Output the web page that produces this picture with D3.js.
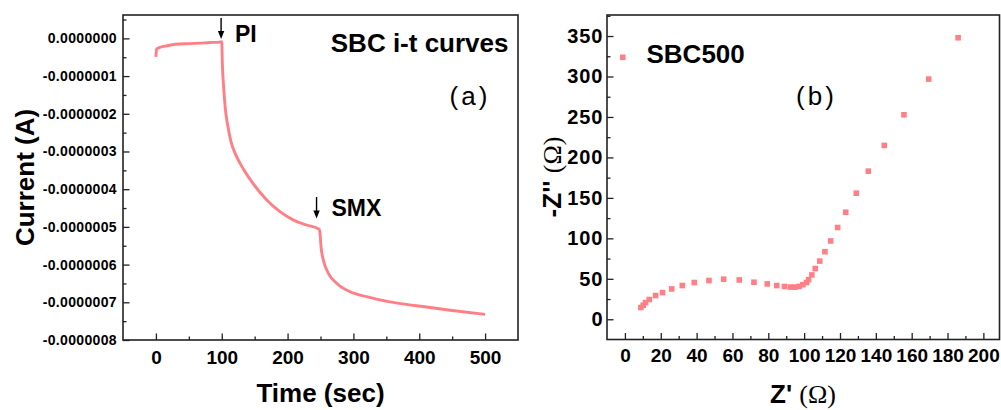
<!DOCTYPE html>
<html>
<head>
<meta charset="utf-8">
<script src="https://cdn.jsdelivr.net/npm/d3@7"></script>
<style>
  body { margin: 0; background: #fff; }
  svg { display: block; font-family: "Liberation Sans", Arial, sans-serif; }
  .tick line { stroke: #222; stroke-width: 1.3; }
  .tick text { fill: #000; font-weight: bold; }
</style>
</head>
<body>
<svg width="1001" height="410"></svg>
<script>
// (a) i-t curve: time in sec, current in A
const itTime = [0, 1, 3, 6, 10, 16, 25, 36, 50, 67, 82, 97, 100, 101, 103, 105.4, 109, 114, 123, 133, 148, 168, 188, 209, 229, 247.7, 249, 250.8, 254.3, 262, 275, 295, 320, 355, 396, 447, 500];
const itCurrent = [-0.49e-7, -0.29e-7, -0.26e-7, -0.24e-7, -0.22e-7, -0.20e-7, -0.17e-7, -0.15e-7, -0.14e-7, -0.125e-7, -0.11e-7, -0.10e-7, -0.09e-7,
  -0.71e-7, -1.33e-7, -1.86e-7, -2.30e-7, -2.74e-7, -3.15e-7, -3.47e-7, -3.86e-7, -4.28e-7, -4.59e-7, -4.82e-7, -4.95e-7, -5.06e-7,
  -5.12e-7, -5.53e-7, -5.88e-7, -6.23e-7, -6.50e-7, -6.72e-7, -6.85e-7, -6.99e-7, -7.09e-7, -7.21e-7, -7.32e-7];
const itXTicks = [0, 100, 200, 300, 400, 500];
const itYTicks = [0, -1e-7, -2e-7, -3e-7, -4e-7, -5e-7, -6e-7, -7e-7, -8e-7];

// (b) Nyquist plot: Z' and -Z'' in ohm
const zReal = [8.9, 10.2, 11.5, 13.6, 17.1, 21.0, 26.1, 32.0, 38.7, 46.9, 55.1, 63.8, 72.0, 79.4, 84.7, 89.0, 92.3, 94.9, 97.2, 99.3,
  101.3, 102.5, 104.3, 106.2, 108.7, 111.6, 114.8, 118.7, 123.2, 129.1, 135.8, 144.7, 155.7, 169.5, 185.9];
const zImag = [14.5, 17.3, 20.6, 24.4, 29.3, 33.0, 37.5, 41.7, 45.4, 47.9, 49.5, 48.6, 45.8, 43.7, 41.7, 40.5, 39.8, 39.7, 40.6, 42.8,
  45.5, 49.0, 54.8, 62.7, 71.9, 83.5, 96.8, 113.4, 132.3, 155.8, 183.0, 214.8, 252.7, 296.8, 347.9];
const zXTicks = [0, 20, 40, 60, 80, 100, 120, 140, 160, 180, 200];
const zYTicks = [0, 50, 100, 150, 200, 250, 300, 350];

const red = "#ff7f86";
const svg = d3.select("svg");

function frame(g, x, y) {
	g.append("rect")
		.attr("x", x.range()[0]).attr("y", y.range()[1])
		.attr("width", x.range()[1] - x.range()[0])
		.attr("height", y.range()[0] - y.range()[1])
		.attr("fill", "none").attr("stroke", "#222").attr("stroke-width", 1.6);
}

function axes(g, x, y, o) {
	const [y0] = y.range();
	const [x0] = x.range();
	// minor ticks
	g.append("g").attr("transform", `translate(0,${y0})`)
		.call(d3.axisBottom(x).tickValues(o.xMinor).tickSize(-3.5).tickFormat(""))
		.call((a) => a.select(".domain").remove());
	g.append("g").attr("transform", `translate(${x0},0)`)
		.call(d3.axisLeft(y).tickValues(o.yMinor).tickSize(-3.5).tickFormat(""))
		.call((a) => a.select(".domain").remove());
	// major ticks
	g.append("g").attr("transform", `translate(0,${y0})`)
		.call(d3.axisBottom(x).tickValues(o.xTicks).tickSize(-6.5).tickPadding(o.xPad).tickFormat(o.xFmt))
		.call((a) => a.select(".domain").remove())
		.call((a) => a.selectAll("text").style("font-size", o.xSize + "px").attr("font-family", null));
	g.append("g").attr("transform", `translate(${x0},0)`)
		.call(d3.axisLeft(y).tickValues(o.yTicks).tickSize(-6.5).tickPadding(o.yPad).tickFormat(o.yFmt))
		.call((a) => a.select(".domain").remove())
		.call((a) => a.selectAll("text").style("font-size", o.ySize + "px")
			.style("letter-spacing", o.ySpace + "px").attr("font-family", null));
}

function arrow(g, x, y1, y2) {
	g.append("line").attr("x1", x).attr("x2", x).attr("y1", y1).attr("y2", y2 - 6)
		.attr("stroke", "#000").attr("stroke-width", 1.4);
	g.append("path").attr("d", `M${x - 3.2},${y2 - 8}L${x + 3.2},${y2 - 8}L${x},${y2}Z`).attr("fill", "#000");
}

// ---------- panel (a)
const xA = d3.scaleLinear().domain([-50, 550]).range([123, 518]);
const yA = d3.scaleLinear().domain([-8e-7, 0.62e-7]).range([340, 15]);
const gA = svg.append("g");

axes(gA, xA, yA, {
	xTicks: itXTicks, xMinor: [50, 150, 250, 350, 450],
	yTicks: itYTicks, yMinor: d3.range(-7.5, 1, 1).map((d) => d * 1e-7),
	xFmt: (d) => d, yFmt: (d) => (Math.abs(d) < 1e-12 ? 0 : d).toFixed(7),
	xPad: 10.5, yPad: 6, xSize: 19, ySize: 14, ySpace: 0.35
});

const itData = itTime.map((t, i) => ({ t, c: itCurrent[i] }));
gA.append("path").datum(itData)
	.attr("fill", "none").attr("stroke", red).attr("stroke-width", 2.9)
	.attr("stroke-linejoin", "round")
	.attr("d", d3.line().x((d) => xA(d.t)).y((d) => yA(d.c)).curve(d3.curveMonotoneX));
frame(gA, xA, yA);

arrow(gA, xA(99), 18, 39);
gA.append("text").attr("x", 235).attr("y", 41.7).text("PI")
	.style("font-size", "23px").style("font-weight", "bold");
arrow(gA, xA(244), 197, 218.5);
gA.append("text").attr("x", 331.5).attr("y", 216).text("SMX")
	.style("font-size", "23px").style("font-weight", "bold");
gA.append("text").attr("x", 508.5).attr("y", 51.7).attr("text-anchor", "end").text("SBC i-t curves")
	.style("font-size", "26px").style("font-weight", "bold");
gA.append("text").attr("x", 470).attr("y", 104.5).attr("text-anchor", "middle").text("(a)")
	.style("font-size", "26px").style("letter-spacing", "3px");

gA.append("text").attr("x", 320.5).attr("y", 401.5).attr("text-anchor", "middle").text("Time (sec)")
	.style("font-size", "26px").style("font-weight", "bold");
gA.append("text").attr("transform", "translate(33.5,177.5) rotate(-90)").attr("text-anchor", "middle")
	.text("Current (A)").style("font-size", "26px").style("font-weight", "bold");

// ---------- panel (b)
const xB = d3.scaleLinear().domain([-10, 209]).range([607, 999.5]);
const yB = d3.scaleLinear().domain([-25, 376]).range([339.5, 15]);
const gB = svg.append("g");

axes(gB, xB, yB, {
	xTicks: zXTicks, xMinor: d3.range(10, 210, 20),
	yTicks: zYTicks, yMinor: d3.range(-25, 376, 50).filter((d) => d > -25),
	xFmt: (d) => d, yFmt: (d) => d,
	xPad: 8.7, yPad: 3.5, xSize: 19, ySize: 20, ySpace: 1
});

const zData = zReal.map((r, i) => ({ r, im: zImag[i] }));
gB.selectAll("rect.pt").data(zData).join("rect").attr("class", "pt")
	.attr("x", (d) => xB(d.r) - 2.8).attr("y", (d) => yB(d.im) - 2.8)
	.attr("width", 5.6).attr("height", 5.6).attr("fill", red);
frame(gB, xB, yB);

// legend
gB.append("rect").attr("x", 620).attr("y", 54.5).attr("width", 5.6).attr("height", 5.6).attr("fill", red);
gB.append("text").attr("x", 646.5).attr("y", 63.3).text("SBC500")
	.style("font-size", "26px").style("font-weight", "bold");
gB.append("text").attr("x", 816.5).attr("y", 104.5).attr("text-anchor", "middle").text("(b)")
	.style("font-size", "26px").style("letter-spacing", "3px");

const xt = gB.append("text").attr("x", 803).attr("y", 403).attr("text-anchor", "middle")
	.style("font-size", "26px");
xt.append("tspan").text("Z' ").style("font-weight", "bold");
xt.append("tspan").text("(Ω)").style("font-family", "'Liberation Serif', serif");

const yt = gB.append("text").attr("transform", "translate(561,177) rotate(-90)").attr("text-anchor", "middle")
	.style("font-size", "26px");
yt.append("tspan").text("-Z'' ").style("font-weight", "bold");
yt.append("tspan").text("(Ω)").style("font-family", "'Liberation Serif', serif");
</script>
</body>
</html>
